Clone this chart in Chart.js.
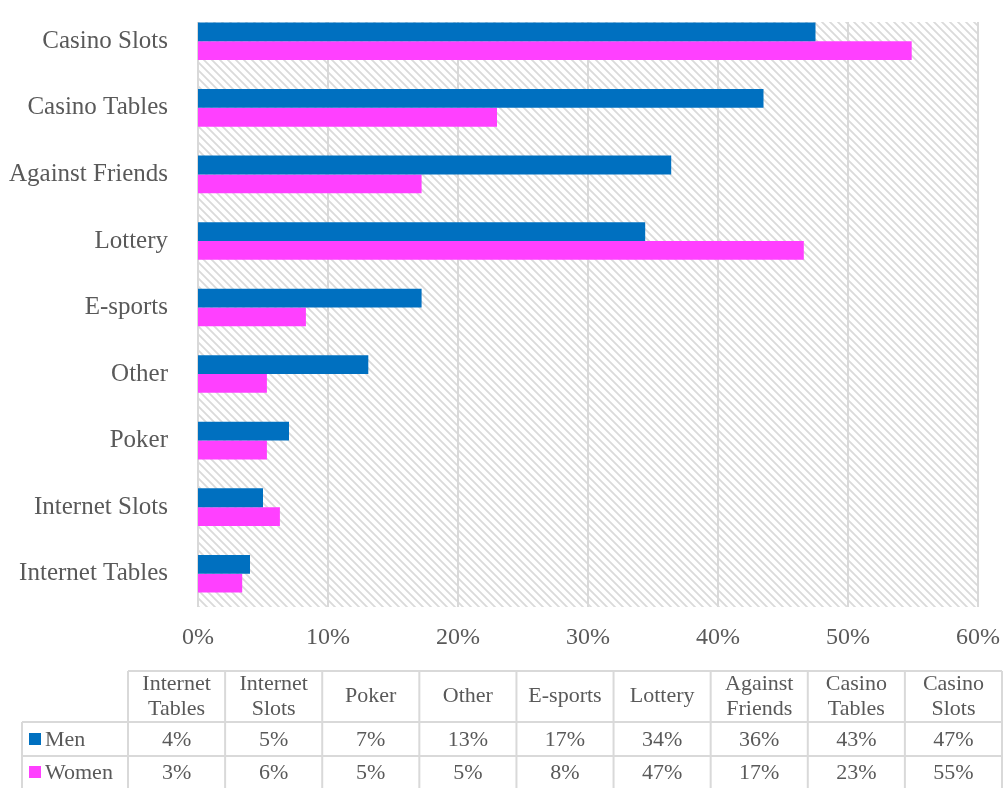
<!DOCTYPE html>
<html>
<head>
<meta charset="utf-8">
<script src="https://cdn.jsdelivr.net/npm/chart.js@4/dist/chart.umd.min.js"></script>
<style>
  html, body { margin: 0; padding: 0; background: #fff; }
  #wrap { width: 1006px; height: 788px; }
</style>
</head>
<body>
<div id="wrap"><canvas id="barChart" width="1006" height="788"></canvas></div>
<script>
// data, in table order (bottom of chart -> top)
const categories = ["Internet Tables", "Internet Slots", "Poker", "Other", "E-sports", "Lottery", "Against Friends", "Casino Tables", "Casino Slots"];
const tableHeaders = [["Internet", "Tables"], ["Internet", "Slots"], ["Poker"], ["Other"], ["E-sports"], ["Lottery"], ["Against", "Friends"], ["Casino", "Tables"], ["Casino", "Slots"]];
const menValues = [4.0, 5.0, 7.0, 13.1, 17.2, 34.4, 36.4, 43.5, 47.5];
const womenValues = [3.4, 6.3, 5.3, 5.3, 8.3, 46.6, 17.2, 23.0, 54.9];
const menLabels = ["4%", "5%", "7%", "13%", "17%", "34%", "36%", "43%", "47%"];
const womenLabels = ["3%", "6%", "5%", "5%", "8%", "47%", "17%", "23%", "55%"];
const xTicks = [0, 10, 20, 30, 40, 50, 60];

const textColor = '#595959';
const lineColor = '#d9d9d9';
const menColor = '#0070C0';
const womenColor = '#FF40FF';
const font = '"Liberation Serif", "Times New Roman", serif';

// hatched plot background + vertical grid lines (plot starts a bit below the chart area top)
const hatchPlugin = {
    id: 'hatch',
    beforeDatasetsDraw(chart) {
        const area = chart.chartArea;
        const ctx = chart.ctx;
        const plotTop = area.top + 14;
        const tile = document.createElement('canvas');
        tile.width = 8;
        tile.height = 8;
        const t = tile.getContext('2d');
        t.fillStyle = '#fff';
        t.fillRect(0, 0, 8, 8);
        t.strokeStyle = '#dadada';
        t.lineWidth = 1.8;
        t.beginPath();
        t.moveTo(-2, -2); t.lineTo(10, 10);
        t.moveTo(-10, -2); t.lineTo(2, 10);
        t.moveTo(6, -2); t.lineTo(18, 10);
        t.stroke();
        ctx.save();
        ctx.fillStyle = ctx.createPattern(tile, 'repeat');
        ctx.fillRect(area.left, plotTop, area.right - area.left, area.bottom - plotTop);
        ctx.strokeStyle = lineColor;
        ctx.lineWidth = 2;
        ctx.beginPath();
        xTicks.forEach(v => {
            const x = Math.round(chart.scales.x.getPixelForValue(v));
            ctx.moveTo(x, plotTop);
            ctx.lineTo(x, area.bottom);
        });
        ctx.stroke();
        ctx.restore();
    }
};

// data table under the chart
const tablePlugin = {
    id: 'dataTable',
    afterDraw(chart) {
        const ctx = chart.ctx;
        const left = 22, colStart = 128, colEnd = 1002;
        const colW = (colEnd - colStart) / categories.length;
        const top = 671, r1 = 722, r2 = 756, bottom = 790;
        ctx.save();
        ctx.strokeStyle = lineColor;
        ctx.lineWidth = 2;
        ctx.beginPath();
        // horizontal lines
        ctx.moveTo(colStart, top); ctx.lineTo(colEnd, top);
        ctx.moveTo(left, r1); ctx.lineTo(colEnd, r1);
        ctx.moveTo(left, r2); ctx.lineTo(colEnd, r2);
        ctx.moveTo(left, bottom); ctx.lineTo(colEnd, bottom);
        // vertical lines
        ctx.moveTo(left, r1); ctx.lineTo(left, bottom);
        for (let i = 0; i <= categories.length; i++) {
            const x = colStart + i * colW;
            ctx.moveTo(x, top); ctx.lineTo(x, bottom);
        }
        ctx.stroke();

        ctx.fillStyle = textColor;
        ctx.font = '22px ' + font;
        ctx.textAlign = 'center';
        ctx.textBaseline = 'middle';
        tableHeaders.forEach((lines, i) => {
            const cx = colStart + (i + 0.5) * colW;
            if (lines.length === 1) {
                ctx.fillText(lines[0], cx, 696);
            } else {
                ctx.fillText(lines[0], cx, 684);
                ctx.fillText(lines[1], cx, 709);
            }
            ctx.fillText(menLabels[i], cx, 740);
            ctx.fillText(womenLabels[i], cx, 773);
        });

        // series keys
        ctx.textAlign = 'left';
        ctx.fillStyle = menColor;
        ctx.fillRect(29, 733, 12, 12);
        ctx.fillStyle = womenColor;
        ctx.fillRect(29, 766, 12, 12);
        ctx.fillStyle = textColor;
        ctx.fillText('Men', 45, 740);
        ctx.fillText('Women', 45, 773);
        ctx.restore();
    }
};

const ctxBarChart = document.getElementById('barChart').getContext('2d');

const barChart = new Chart(ctxBarChart, {
    type: 'bar',
    data: {
        labels: categories,
        datasets: [{
            label: 'Men',
            data: menValues,
            backgroundColor: menColor,
            borderWidth: 0
        }, {
            label: 'Women',
            data: womenValues,
            backgroundColor: womenColor,
            borderWidth: 0
        }]
    },
    options: {
        indexAxis: 'y',
        responsive: false,
        animation: false,
        datasets: {
            bar: {
                categoryPercentage: 0.565,
                barPercentage: 1.0
            }
        },
        layout: {
            padding: { left: 0, right: 28, top: 8, bottom: 117 }
        },
        plugins: {
            legend: { display: false },
            tooltip: { enabled: false }
        },
        scales: {
            x: {
                min: 0,
                max: 60,
                afterBuildTicks(scale) {
                    scale.ticks = xTicks.map(v => ({ value: v }));
                },
                afterFit(scale) {
                    scale.height = 64;
                    scale.paddingLeft = 0;
                    scale.paddingRight = 0;
                },
                grid: { display: false },
                border: { display: false },
                ticks: {
                    padding: 8,
                    color: textColor,
                    font: { family: font, size: 24 },
                    callback: v => v + '%'
                }
            },
            y: {
                reverse: true,
                afterFit(scale) {
                    scale.width = 198;
                    scale.paddingTop = 0;
                    scale.paddingBottom = 0;
                },
                grid: { display: false },
                border: { display: false },
                ticks: {
                    padding: 22,
                    color: textColor,
                    font: { family: font, size: 25 }
                }
            }
        }
    },
    plugins: [hatchPlugin, tablePlugin]
});
</script>
</body>
</html>
